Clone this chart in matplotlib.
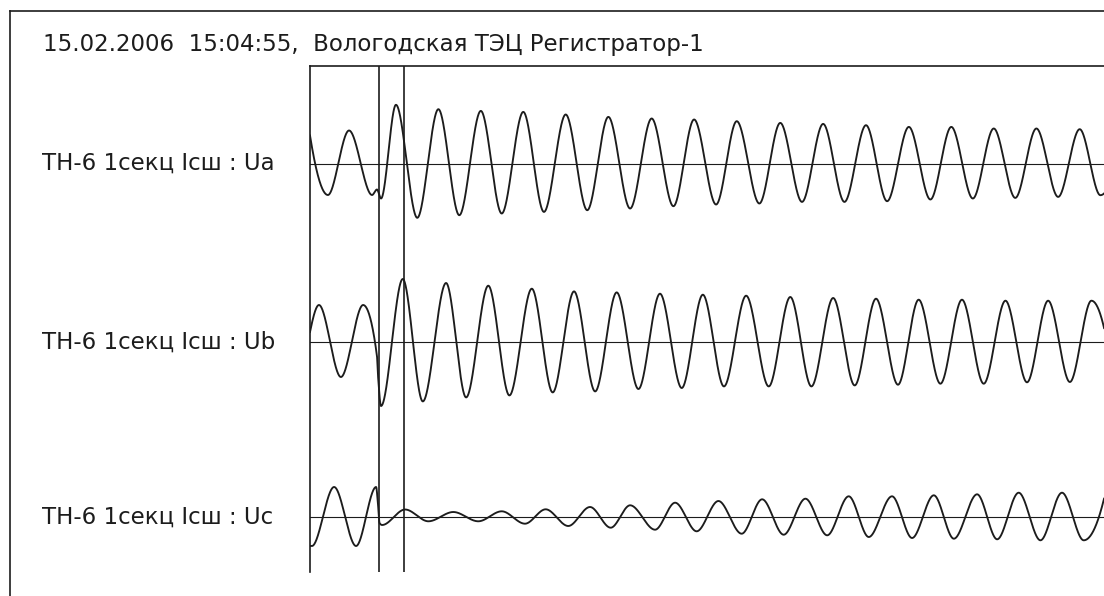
import numpy as np
import matplotlib
matplotlib.use("Agg")
import matplotlib.pyplot as plt

# ---------------------------------------------------------------------------
# Oscillogram data: extrema (and a few break points) of each phase voltage.
# Time in ms from the start of the record, amplitude in relative units.
# ---------------------------------------------------------------------------
title_text = "15.02.2006  15:04:55,  Вологодская ТЭЦ Регистратор-1"
channel_names = ["ТН-6 1секц Iсш : Ua", "ТН-6 1секц Iсш : Ub", "ТН-6 1секц Iсш : Uc"]

cursor_times = [32.4, 44.1]
t_end = 372.3

ua_t = [0.0, 8.4, 18.3, 29.1, 31.4, 33.3, 40.3, 50.3, 60.2, 70.0, 80.1, 89.9,
        100.0, 109.7, 119.9, 130.0, 139.9, 150.1, 160.2, 170.4, 180.1, 190.4,
        200.1, 210.7, 220.5, 230.7, 240.6, 250.6, 260.7, 270.6, 280.8, 290.9,
        300.7, 310.8, 320.6, 330.7, 340.6, 350.8, 360.9, 370.6, 380.8]
ua_v = [28.0, -31.5, 33.0, -31.5, -26.0, -35.0, 58.7, -54.3, 54.3, -51.7, 52.6, -50.0,
        51.6, -48.4, 49.0, -46.7, 46.6, -45.0, 45.0, -42.7, 44.0, -41.0,
        42.3, -40.0, 40.6, -38.4, 39.6, -38.4, 38.3, -37.7, 36.6, -36.0,
        36.6, -35.0, 35.0, -34.4, 35.0, -33.4, 34.3, -31.7, 33.0]

ub_t = [0.0, 4.2, 14.5, 24.9, 31.4, 31.9, 33.3, 43.5, 52.9, 63.8, 73.2, 83.6,
        93.5, 104.0, 113.8, 123.8, 133.7, 143.8, 154.0, 164.1, 174.3, 184.2,
        194.1, 204.5, 215.1, 225.2, 235.1, 245.3, 255.4, 265.4, 275.7, 285.4,
        295.6, 305.7, 315.9, 326.1, 336.2, 346.1, 356.3, 366.4, 376.6]
ub_v = [10.0, 37.0, -35.0, 37.0, -14.0, -34.0, -64.0, 63.0, -59.4, 59.0, -55.4, 56.3,
        -53.4, 53.3, -50.4, 50.6, -49.4, 49.6, -47.0, 48.3, -46.0, 47.3,
        -44.4, 46.3, -44.4, 45.0, -44.4, 44.0, -43.4, 43.3, -42.7, 42.3,
        -41.7, 42.3, -41.7, 41.3, -40.3, 41.3, -40.0, 41.3, -40.0]

uc_t = [0.0, 0.9, 11.3, 21.6, 31.0, 31.8, 32.6, 33.8, 44.6, 55.5, 67.2, 78.9,
        89.9, 100.8, 110.5, 121.1, 131.3, 141.0, 150.1, 161.8, 171.2, 181.3,
        191.5, 202.4, 212.0, 222.1, 232.3, 242.5, 252.6, 262.0, 272.9, 282.3,
        292.5, 301.9, 312.8, 322.2, 332.3, 342.5, 352.6, 362.8, 373.0]
uc_v = [-29.0, -29.0, 30.0, -29.0, 30.0, 15.0, -6.0, -8.0, 7.5, -4.3, 5.0, -4.3,
        5.7, -6.7, 7.7, -9.0, 10.0, -10.7, 11.7, -12.7, 14.3, -14.3,
        16.0, -16.7, 17.7, -17.7, 18.3, -18.3, 20.7, -20.0, 20.7, -21.0,
        21.7, -21.7, 22.7, -22.3, 24.3, -23.3, 24.3, -23.3, 24.5]


def pchip(x, y, xs):
    """Monotone piecewise-cubic (Fritsch-Carlson) curve through the points."""
    x = np.asarray(x, float)
    y = np.asarray(y, float)
    h = np.diff(x)
    d = np.diff(y) / h
    m = np.zeros_like(y)
    for i in range(1, len(y) - 1):
        if d[i - 1] * d[i] > 0:
            w1 = 2 * h[i] + h[i - 1]
            w2 = h[i] + 2 * h[i - 1]
            m[i] = (w1 + w2) / (w1 / d[i - 1] + w2 / d[i])
    for end, (h0, h1, d0, d1) in ((0, (h[0], h[1], d[0], d[1])),
                                  (-1, (h[-1], h[-2], d[-1], d[-2]))):
        s = ((2 * h0 + h1) * d0 - h0 * d1) / (h0 + h1)
        if s * d0 <= 0:
            s = 0.0
        elif d0 * d1 < 0 and abs(s) > 3 * abs(d0):
            s = 3 * d0
        m[end] = s
    idx = np.clip(np.searchsorted(x, xs, side="right") - 1, 0, len(h) - 1)
    t = (xs - x[idx]) / h[idx]
    h00 = 2 * t**3 - 3 * t**2 + 1
    h10 = t**3 - 2 * t**2 + t
    h01 = -2 * t**3 + 3 * t**2
    h11 = t**3 - t**2
    return (h00 * y[idx] + h10 * h[idx] * m[idx]
            + h01 * y[idx + 1] + h11 * h[idx] * m[idx + 1])


# ---------------------------------------------------------------------------
# Layout (pixel geometry of the recorder printout)
# ---------------------------------------------------------------------------
W, H = 1104, 596
fig = plt.figure(figsize=(W / 100, H / 100), dpi=100)
fig.patch.set_facecolor("white")

ink = "#1c1c1c"
txt_font = ["DejaVu Sans"]
txt_size = 16.5


def fx(px):
    return px / W


def fy(py):
    return 1 - py / H


# outer frame of the printout
frame = fig.add_axes([fx(10), 0.0, 1.0 - fx(10), fy(11)])
frame.set_xticks([])
frame.set_yticks([])
frame.set_facecolor("none")
for side in ("right", "bottom"):
    frame.spines[side].set_visible(False)
for side in ("left", "top"):
    frame.spines[side].set_linewidth(1.2)
    frame.spines[side].set_color(ink)

# oscillogram field
top_px, bot_px, left_px = 66, 572, 310
ax = fig.add_axes([fx(left_px), fy(bot_px), 1.0 - fx(left_px), (bot_px - top_px) / H])
ax.set_facecolor("none")
ax.set_xlim(0, t_end)
ax.set_ylim(-(bot_px - top_px), 0)
ax.set_xticks([])
ax.set_yticks([])
for side in ("right", "bottom"):
    ax.spines[side].set_visible(False)
for side in ("left", "top"):
    ax.spines[side].set_linewidth(1.2)
    ax.spines[side].set_color(ink)

baselines_px = [163.5, 342.0, 517.0]
series = [(ua_t, ua_v), (ub_t, ub_v), (uc_t, uc_v)]

for name, base_px, (tt, vv) in zip(channel_names, baselines_px, series):
    base = -(base_px - top_px)
    ax.axhline(base, color=ink, lw=0.8, zorder=2)
    ts = np.linspace(tt[0], tt[-1], 6000)
    ax.plot(ts, base + pchip(tt, vv, ts), color=ink, lw=1.35, zorder=3,
            solid_joinstyle="round")
    fig.text(fx(42), fy(base_px), name, ha="left", va="center",
             fontsize=txt_size, color=ink, family=txt_font)

for tc in cursor_times:
    ax.axvline(tc, color=ink, lw=1.2, zorder=4)

fig.text(fx(43), fy(44), title_text, ha="left", va="center",
         fontsize=txt_size, color=ink, family=txt_font)

fig.savefig("out.png", dpi=100, facecolor="white")
